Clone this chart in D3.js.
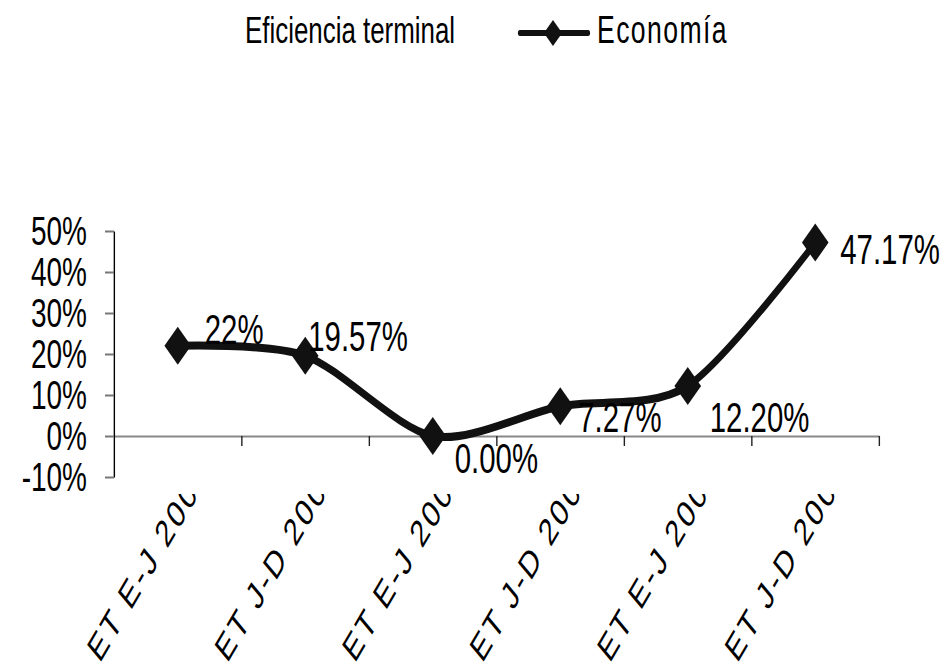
<!DOCTYPE html>
<html>
<head>
<meta charset="utf-8">
<script src="https://cdn.jsdelivr.net/npm/d3@7"></script>
<style>
  body { margin: 0; background: #fff; }
  svg text { font-family: "Liberation Sans", Arial, sans-serif; fill: #000; }
</style>
</head>
<body>
<svg id="chart" width="949" height="669"></svg>
<script>
// chart data
var categories = ["ET E-J 2002", "ET J-D 2002", "ET E-J 2003", "ET J-D 2003", "ET E-J 2004", "ET J-D 2004"];
var values = [0.22, 0.1957, 0.0, 0.0727, 0.122, 0.4717];
var valueLabels = ["22%", "19.57%", "0.00%", "7.27%", "12.20%", "47.17%"];
var yTicks = [-0.1, 0, 0.1, 0.2, 0.3, 0.4, 0.5];
var yTickLabels = ["-10%", "0%", "10%", "20%", "30%", "40%", "50%"];
var seriesName = "Economía";
var chartTitle = "Eficiencia terminal";

// where each data label sits relative to its point (display px)
var labelNudge = [[27, -2], [3, -5], [22, 37], [18, 26], [22, 46], [25, 21]];

// the whole picture is squeezed horizontally
var K = 0.7;

var svg = d3.select("#chart");
svg.append("rect").attr("width", 949).attr("height", 669).attr("fill", "#fff");

var g = svg.append("g").attr("transform", "scale(" + K + ",1)");

var left = 114 / K, right = 879 / K;
var x = d3.scaleBand().domain(categories).range([left, right]).padding(0);
var xb = d3.scaleLinear().domain([0, categories.length]).range([left, right]);
var y = d3.scaleLinear().domain([-0.1, 0.5]).range([477, 231]);
var cx = d => x(d) + x.bandwidth() / 2;

// x axis through zero
var xAxis = g.append("g")
  .attr("transform", "translate(0," + y(0) + ")")
  .call(d3.axisBottom(xb).tickValues(d3.range(1, categories.length + 1)).tickFormat("").tickSizeInner(10).tickSizeOuter(0));
xAxis.select(".domain").attr("stroke", "#888").attr("stroke-width", 2);
xAxis.selectAll(".tick line").attr("stroke", "#222").attr("stroke-width", 2);

// y axis
var yAxis = g.append("g")
  .attr("transform", "translate(" + left + ",0)")
  .call(d3.axisLeft(y).tickValues(yTicks).tickFormat((d, i) => yTickLabels[i]).tickSizeInner(9 / K).tickSizeOuter(0).tickPadding(18 / K));
yAxis.select(".domain").attr("stroke", "#000").attr("stroke-width", 2);
yAxis.selectAll(".tick line").attr("stroke", "#777").attr("stroke-width", 2);
yAxis.selectAll(".tick text").attr("font-size", 40).attr("font-family", "Liberation Sans, Arial, sans-serif").attr("dy", "0.33em").attr("fill", "#000");

// category labels, rotated inside the squeezed group and cut at the top
svg.append("clipPath").attr("id", "lblclip")
  .append("rect").attr("x", 0).attr("y", 494).attr("width", 949 / K).attr("height", 200);
g.append("g").attr("clip-path", "url(#lblclip)")
  .selectAll("text").data(categories).enter().append("text")
  .attr("transform", d => "translate(" + (cx(d) - 78 / K) + ",664) rotate(-50)")
  .attr("font-size", 38)
  .attr("letter-spacing", 3.4)
  .text(d => d);

// smoothed line
var pts = categories.map((c, i) => [cx(c), y(values[i])]);
g.append("path")
  .attr("d", d3.line().curve(d3.curveCardinal.tension(0.15))(pts))
  .attr("fill", "none").attr("stroke", "#111").attr("stroke-width", 8);

// diamond markers
var diamond = d3.symbol().type(d3.symbolSquare).size(723);
g.selectAll(".mk").data(pts).enter().append("path")
  .attr("class", "mk")
  .attr("d", diamond)
  .attr("transform", d => "translate(" + d[0] + "," + d[1] + ") rotate(45)")
  .attr("fill", "#111");

// value labels
g.selectAll(".vl").data(pts).enter().append("text")
  .attr("class", "vl")
  .attr("x", (d, i) => d[0] + labelNudge[i][0] / K)
  .attr("y", (d, i) => d[1] + labelNudge[i][1])
  .attr("font-size", 42)
  .text((d, i) => valueLabels[i]);

// title and legend
g.append("text").attr("x", 245 / K).attr("y", 43).attr("font-size", 37).text(chartTitle);
g.append("line").attr("x1", 520 / K).attr("x2", 588 / K).attr("y1", 33).attr("y2", 33)
  .attr("stroke", "#111").attr("stroke-width", 6).attr("stroke-linecap", "round");
g.append("path").attr("d", d3.symbol().type(d3.symbolSquare).size(338))
  .attr("transform", "translate(" + (553 / K) + ",33) rotate(45)").attr("fill", "#111");
g.append("text").attr("x", 597 / K).attr("y", 43).attr("font-size", 38).attr("letter-spacing", 2).text(seriesName);
</script>
</body>
</html>
